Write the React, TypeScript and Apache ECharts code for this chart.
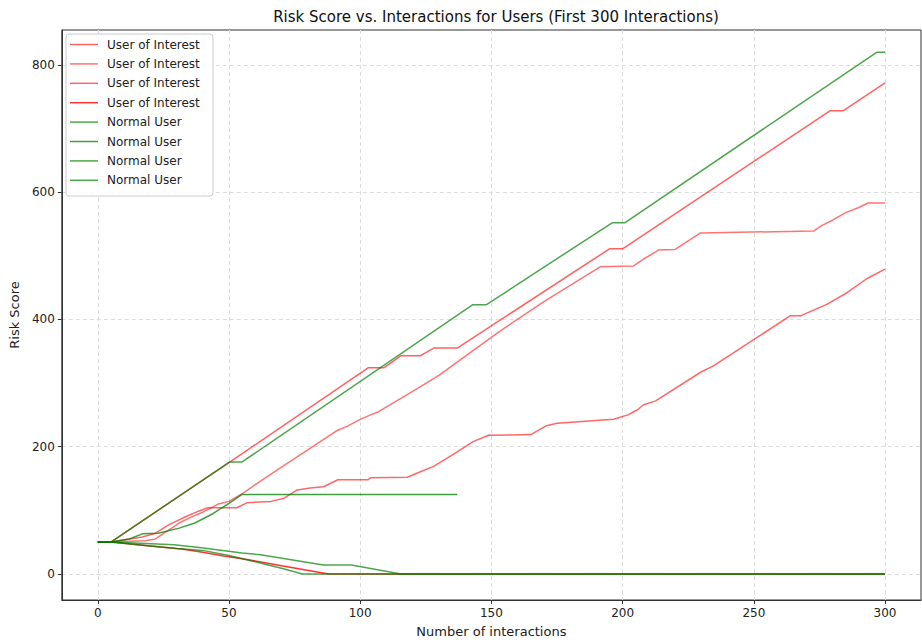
import React, { useEffect, useRef } from "react";
import * as echarts from "echarts";

const TITLE = "Risk Score vs. Interactions for Users (First 300 Interactions)";
const X_LABEL = "Number of interactions";
const Y_LABEL = "Risk Score";
const X_TICKS = [0, 50, 100, 150, 200, 250, 300];
const Y_TICKS = [0, 200, 400, 600, 800];

const interest1 = [
  [0, 50], [5, 50], [50, 175], [103, 324], [109, 324], [115.6, 343], [123, 343], [128, 355],
  [137, 355], [195, 511], [200, 511], [279, 728], [284, 728], [300, 772],
];
const interest2 = [
  [0, 50], [5, 50], [18, 52], [22, 55], [31, 80], [36, 90], [40, 97], [46, 110], [50, 114],
  [55, 126], [62, 146], [70, 168], [80, 195], [91, 225], [95, 232], [100, 243], [104, 250],
  [107, 255], [120, 287], [130, 312], [146, 360], [153, 381], [170, 428], [191.6, 483],
  [204, 484], [208, 495], [213.7, 509], [220, 510], [229.7, 536], [272.7, 539], [276, 548],
  [280, 556], [285, 568], [290, 576], [293.5, 583], [300, 583],
];
const interest3 = [
  [0, 50], [5, 50], [17, 58], [22, 64], [27, 77], [31, 85], [33, 89], [38, 98], [42, 104],
  [53, 104], [57, 112], [66, 114], [71, 119], [76, 132], [81, 135], [86, 137], [91.5, 148],
  [103, 148], [104, 151], [118, 152], [122, 159], [128, 169], [137, 192], [143, 208],
  [149, 218], [165, 219], [171, 233], [175, 237], [196.6, 243], [202, 250], [205.7, 258],
  [208, 266], [212.6, 272], [229.7, 317], [234.6, 327], [264, 406], [268, 406], [278, 424],
  [285.5, 442], [293, 464], [300, 479],
];
const interest4 = [
  [0, 50], [5, 50], [20, 44], [32, 39], [40, 34], [48, 28], [55, 24], [70, 13], [88, 0],
  [300, 0],
];
const normal1 = [
  [0, 50], [5, 50], [50.3, 176], [55, 176], [142.8, 423], [148, 423], [196, 552], [200.8, 552],
  [296.8, 820], [300, 820],
];
const normal2 = [
  [0, 50], [5, 50], [12, 55], [17, 63], [23, 64], [31, 72], [37, 80], [44, 95], [50, 111],
  [55, 125], [137, 125],
];
const normal3 = [
  [0, 50], [5, 50], [29, 46], [39.5, 41], [55, 33], [62, 30], [86, 14], [96.6, 14],
  [115.6, 0], [300, 0],
];
const normal4 = [
  [0, 50], [5, 50], [20, 44], [30, 40], [40, 37], [50, 29], [60, 19], [70, 9], [78, 0],
  [300, 0],
];

const SERIES_NAMES = [
  "User of Interest", "User of Interest", "User of Interest", "User of Interest",
  "Normal User", "Normal User", "Normal User", "Normal User",
];
const SERIES_DATA = [interest1, interest2, interest3, interest4, normal1, normal2, normal3, normal4];
const SERIES_COLORS = [
  "rgba(255,0,0,0.62)", "rgba(255,0,0,0.55)", "rgba(255,0,0,0.6)", "rgba(255,0,0,0.8)",
  "rgba(0,128,0,0.7)", "rgba(0,128,0,0.75)", "rgba(0,128,0,0.7)", "rgba(0,128,0,0.7)",
];

const FONT = "DejaVu Sans";

export default function App() {
  const ref = useRef<HTMLDivElement>(null);
  useEffect(() => {
    if (!ref.current) return;
    const chart = echarts.init(ref.current, null, { renderer: "svg" });
    const legendItems: any[] = [];
    const lx = 66, ly = 34, rowH = 19.4;
    legendItems.push({
      type: "rect",
      shape: { x: lx, y: ly, width: 147, height: 162, r: 3 },
      style: { fill: "rgba(255,255,255,0.85)", stroke: "#cccccc", lineWidth: 1 },
      z: 100,
    });
    SERIES_NAMES.forEach((name, i) => {
      const cy = ly + 10.5 + i * rowH;
      legendItems.push({
        type: "line",
        shape: { x1: lx + 4, y1: cy, x2: lx + 32, y2: cy },
        style: { stroke: SERIES_COLORS[i], lineWidth: 1.5 },
        z: 101,
      });
      legendItems.push({
        type: "text",
        x: lx + 41,
        y: cy,
        style: {
          text: name,
          fill: "#222",
          font: `12px '${FONT}'`,
          textVerticalAlign: "middle",
          verticalAlign: "middle",
        },
        z: 101,
      });
    });
    chart.setOption({
      animation: false,
      backgroundColor: "#ffffff",
      title: {
        text: TITLE,
        left: 491,
        textAlign: "center",
        top: 4,
        textStyle: { fontFamily: FONT, fontSize: 15, fontWeight: "normal", color: "#111" },
      },
      grid: {
        left: 60,
        right: 1,
        top: 30,
        bottom: 43,
        show: true,
        borderColor: "#333",
        borderWidth: 1,
        containLabel: false,
      },
      xAxis: {
        type: "value",
        min: -13.7,
        max: 313.7,
        name: X_LABEL,
        nameLocation: "middle",
        nameGap: 25,
        nameTextStyle: { fontFamily: FONT, fontSize: 13, color: "#222" },
        axisLine: { show: true, onZero: false, lineStyle: { color: "#333" } },
        axisTick: { show: true, customValues: X_TICKS, length: 4, lineStyle: { color: "#333" } },
        axisLabel: { customValues: X_TICKS, fontFamily: FONT, fontSize: 12, color: "#222", margin: 7 },
        splitLine: { show: true, lineStyle: { color: "#dcdcdc", type: [4, 3], width: 1 } },
      },
      yAxis: {
        type: "value",
        min: -41,
        max: 855,
        name: Y_LABEL,
        nameLocation: "middle",
        nameGap: 40,
        nameTextStyle: { fontFamily: FONT, fontSize: 13, color: "#222" },
        axisLine: { show: true, onZero: false, lineStyle: { color: "#333" } },
        axisTick: { show: true, customValues: Y_TICKS, length: 4, lineStyle: { color: "#333" } },
        axisLabel: { customValues: Y_TICKS, fontFamily: FONT, fontSize: 12, color: "#222", margin: 7 },
        splitLine: { show: true, lineStyle: { color: "#dcdcdc", type: [4, 3], width: 1 } },
      },
      series: SERIES_DATA.map((d, i) => ({
        type: "line",
        name: SERIES_NAMES[i],
        data: d,
        showSymbol: false,
        symbol: "none",
        lineStyle: { color: SERIES_COLORS[i], width: 1.5 },
        itemStyle: { color: SERIES_COLORS[i] },
        z: 2 + i,
      })),
      graphic: legendItems,
    });
    return () => chart.dispose();
  }, []);
  return (
    <div
      ref={ref}
      style={{ position: "fixed", left: 0, top: 0, width: 922, height: 643, background: "#fff" }}
    />
  );
}
